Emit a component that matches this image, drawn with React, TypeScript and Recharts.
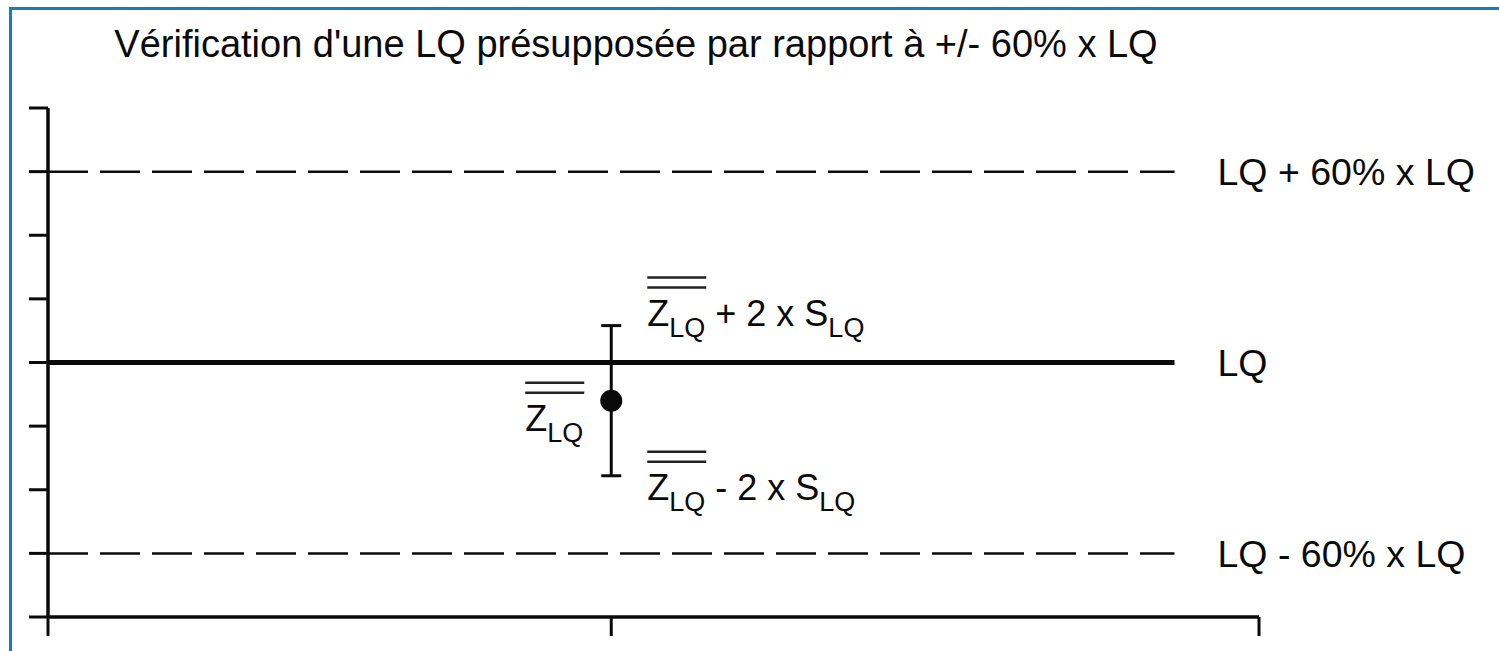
import { ComposedChart, ErrorBar, ReferenceLine, Scatter, XAxis, YAxis } from 'recharts'

// axis ticks (arbitrary units, LQ sits at 4)
const yTicks = [0, 1, 2, 3, 4, 5, 6, 7, 8]
const xTicks = [0, 1, 2.15]

// limit lines
const lineStart = 0
const lineEnd = 2
const lqValue = 4
const lqPlus = 7
const lqMinus = 1
const limitLabels = ['LQ + 60% x LQ', 'LQ', 'LQ - 60% x LQ']

// mean of Z and 2 x S
const meanX = 1
const meanZ = 3.4
const twoS = 1.18

const ink = '#0a0a0a'
const font = '"Liberation Sans", Arial, sans-serif'

const pointData = [{ x: meanX, y: meanZ, err: twoS }]
const noteData = [
  { x: meanX, y: meanZ + twoS, kind: 'upper' },
  { x: meanX, y: meanZ, kind: 'mean' },
  { x: meanX, y: meanZ - twoS, kind: 'lower' },
]

function ZBar({ x, y, tail }: { x: number; y: number; tail?: string }) {
  return (
    <g>
      <line x1={x} x2={x + 59} y1={y - 48} y2={y - 48} stroke='#222' strokeWidth={2.5} />
      <line x1={x} x2={x + 59} y1={y - 38} y2={y - 38} stroke='#222' strokeWidth={2.5} />
      <text x={x} y={y} fontFamily={font} fontSize={36} fill={ink}>
        Z
        <tspan fontSize={27} dy={11}>LQ</tspan>
        {tail ? (
          <>
            <tspan dy={-11}>{' ' + tail + ' S'}</tspan>
            <tspan fontSize={27} dy={11}>LQ</tspan>
          </>
        ) : null}
      </text>
    </g>
  )
}

function Note(props: any) {
  const { cx, cy, payload } = props
  if (payload.kind === 'upper') return <ZBar x={cx + 36} y={cy} tail='+ 2 x' />
  if (payload.kind === 'lower') return <ZBar x={cx + 36} y={cy + 24} tail='- 2 x' />
  return <ZBar x={cx - 86} y={cy + 30} />
}

function Dot(props: any) {
  return <circle cx={props.cx} cy={props.cy} r={11} fill={ink} />
}

const NoTick = () => <g />

const labelStyle = { fontSize: 37.5, fill: ink, fontFamily: font }

export default function App() {
  return (
    <div style={{ position: 'absolute', left: 0, top: 0, width: 1499, height: 651, background: '#fff', overflow: 'hidden' }}>
      <div
        style={{
          position: 'absolute',
          left: 9,
          top: 7,
          width: 1600,
          height: 800,
          borderLeft: '3px solid #1b7db8',
          borderTop: '3px solid #1b7db8',
        }}
      />
      <div
        style={{
          position: 'absolute',
          left: 0,
          top: 26,
          width: 1272,
          textAlign: 'center',
          fontFamily: font,
          fontSize: 38,
          lineHeight: '37px',
          color: ink,
          whiteSpace: 'nowrap',
        }}
      >
        Vérification d'une LQ présupposée par rapport à +/- 60% x LQ
      </div>
      <div style={{ position: 'absolute', left: 0, top: 0 }}>
        <ComposedChart width={1499} height={651} margin={{ top: 108, right: 240, bottom: 14, left: 20 }}>
          <XAxis
            type='number'
            dataKey='x'
            domain={[0, 2.15]}
            ticks={xTicks}
            allowDataOverflow
            tick={NoTick}
            tickSize={19}
            height={20}
            axisLine={{ stroke: ink, strokeWidth: 3.5 }}
            tickLine={{ stroke: ink, strokeWidth: 3 }}
          />
          <YAxis
            type='number'
            dataKey='y'
            domain={[0, 8]}
            ticks={yTicks}
            allowDataOverflow
            tick={NoTick}
            tickSize={19}
            width={28}
            axisLine={{ stroke: ink, strokeWidth: 3.5 }}
            tickLine={{ stroke: ink, strokeWidth: 3 }}
          />
          <ReferenceLine
            segment={[{ x: lineStart, y: lqPlus }, { x: lineEnd, y: lqPlus }]}
            stroke={ink}
            strokeWidth={2.5}
            strokeDasharray='40 12'
            label={{ value: limitLabels[0], position: 'right', offset: 43, ...labelStyle }}
          />
          <ReferenceLine
            segment={[{ x: lineStart, y: lqValue }, { x: lineEnd, y: lqValue }]}
            stroke={ink}
            strokeWidth={5}
            label={{ value: limitLabels[1], position: 'right', offset: 43, ...labelStyle }}
          />
          <ReferenceLine
            segment={[{ x: lineStart, y: lqMinus }, { x: lineEnd, y: lqMinus }]}
            stroke={ink}
            strokeWidth={2.5}
            strokeDasharray='40 12'
            label={{ value: limitLabels[2], position: 'right', offset: 43, ...labelStyle }}
          />
          <Scatter data={noteData} dataKey='y' shape={Note} isAnimationActive={false} />
          <Scatter data={pointData} dataKey='y' shape={Dot} isAnimationActive={false}>
            <ErrorBar dataKey='err' direction='y' width={10} stroke={ink} strokeWidth={3} isAnimationActive={false} />
          </Scatter>
        </ComposedChart>
      </div>
    </div>
  )
}
